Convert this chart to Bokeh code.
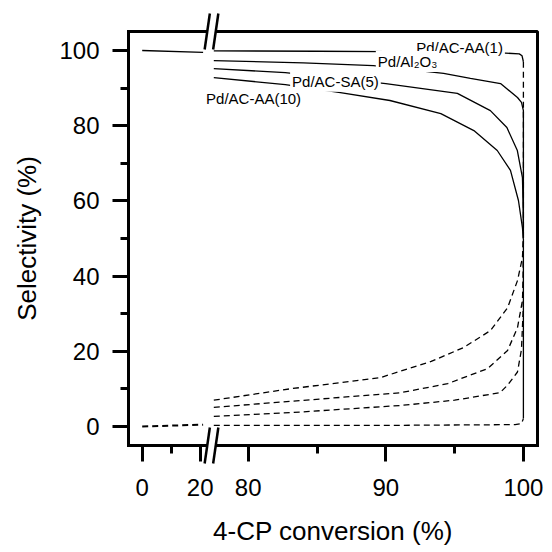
from bokeh.plotting import figure
from bokeh.models import Range1d, FixedTicker, Label
from bokeh.embed import file_html
from bokeh.resources import INLINE

# ---------------- data (4-CP conversion %, selectivity %) ----------------
# low-conversion segment (left of the axis break)
low_x = [0.0, 21.0]
low_main_y = [100.0, 99.5]
low_by_y = [0.0, 0.5]

# high-conversion segment: main product (solid) and by-product (dashed)
aa1_main_x = [77.5, 85.0, 90.0, 95.0, 98.7, 99.7, 99.9, 100.0]
aa1_main_y = [99.9, 99.8, 99.7, 99.5, 99.3, 99.1, 98.6, 97.0]
aa1_drop_x = [100.0, 100.0]
aa1_drop_y = [97.0, 50.0]
aa1_rise_x = [100.0, 100.0]
aa1_rise_y = [50.0, 2.1]
aa1_by_x = [77.5, 90.0, 99.4, 99.86, 100.0]
aa1_by_y = [0.3, 0.3, 0.5, 0.8, 2.1]

al2o3_main_x = [77.5, 84.0, 89.1, 94.2, 96.15, 98.34, 99.57, 99.86, 100.0, 100.0]
al2o3_main_y = [97.3, 96.7, 96.0, 93.9, 92.6, 91.2, 87.5, 86.2, 84.0, 50.0]
al2o3_by_x = [77.5, 84.0, 91.1, 95.0, 98.3, 98.85, 99.57, 99.86, 99.99, 100.0]
al2o3_by_y = [2.7, 3.9, 5.6, 7.0, 9.0, 11.0, 14.5, 20.5, 31.6, 50.0]

sa5_main_x = [77.5, 82.7, 90.0, 95.2, 97.6, 98.8, 99.56, 99.93, 99.99, 100.0]
sa5_main_y = [95.2, 94.1, 91.2, 88.6, 84.0, 79.5, 73.4, 66.2, 57.4, 50.0]
sa5_by_x = [77.5, 83.8, 91.1, 94.5, 97.4, 98.85, 99.57, 99.93, 99.99, 100.0]
sa5_by_y = [5.1, 6.9, 9.0, 11.4, 15.4, 20.2, 26.3, 33.5, 40.7, 50.0]

aa10_main_x = [77.5, 82.7, 86.7, 90.3, 94.0, 96.4, 98.1, 99.06, 99.64, 99.93, 100.0]
aa10_main_y = [92.8, 90.9, 88.8, 86.7, 83.2, 78.7, 73.4, 68.1, 60.1, 52.9, 50.0]
aa10_by_x = [77.5, 83.0, 89.6, 93.3, 95.65, 97.6, 98.85, 99.57, 99.93, 100.0]
aa10_by_y = [7.0, 10.0, 13.0, 17.3, 21.0, 25.5, 31.6, 38.8, 44.9, 50.0]

labels = ["Pd/AC-AA(1)", "Pd/Al\u2082O\u2083", "Pd/AC-SA(5)", "Pd/AC-AA(10)"]
label_x = [95.36, 91.58, 86.34, 80.39]
label_y = [100.8, 97.1, 91.8, 87.2]

x_major = [0, 20, 80, 90, 100]
x_minor = [10, 85, 95]
y_major = [0, 20, 40, 60, 80, 100]
y_minor = [10, 30, 50, 70, 90]

# ---------------- broken x axis mapping ----------------
HIGH_START = 80.0
HIGH_OFFSET = 106.0
HIGH_SCALE = 13.76
BREAK_U = 69.3


def to_u(x):
    if x < 50:
        return x * 29 / 10
    return HIGH_OFFSET + (x - HIGH_START) * HIGH_SCALE


def us(xs):
    return [to_u(v) for v in xs]


FONT = "Liberation Sans"
Y0, Y1 = -5.05, 105.05

p = figure(width=550, height=550, output_backend="svg", toolbar_location=None,
           x_range=Range1d(-13.7, 395.3), y_range=Range1d(Y0, Y1),
           min_border_left=128, min_border_right=13, min_border_top=31,
           min_border_bottom=105)
p.xgrid.visible = False
p.ygrid.visible = False
p.outline_line_color = "black"
p.outline_line_width = 3
p.background_fill_color = "white"
p.border_fill_color = "white"

xmaj_u = us(x_major)
xa = p.xaxis[0]
xa.ticker = FixedTicker(ticks=xmaj_u, minor_ticks=us(x_minor))
xa.major_label_overrides = {u: str(v) for u, v in zip(xmaj_u, x_major)}
ya = p.yaxis[0]
ya.ticker = FixedTicker(ticks=y_major, minor_ticks=y_minor)

for ax in (xa, ya):
    ax.axis_line_width = 3
    ax.axis_line_cap = "square"
    ax.major_tick_line_width = 3
    ax.minor_tick_line_width = 3
    ax.major_tick_in = 0
    ax.minor_tick_in = 0
    ax.major_tick_out = 16
    ax.minor_tick_out = 8
    ax.major_label_text_font = FONT
    ax.major_label_text_font_size = "24px"
    ax.major_label_text_color = "black"
    ax.axis_label_text_font = FONT
    ax.axis_label_text_font_size = "26px"
    ax.axis_label_text_font_style = "normal"
    ax.axis_label_text_color = "black"

xa.axis_label = "4-CP conversion (%)"
xa.major_label_standoff = 17
xa.axis_label_standoff = 17
ya.axis_label = "Selectivity (%)"
ya.major_label_standoff = 13
ya.axis_label_standoff = 14

LW = 1.3
DASH = "6 4"
# left segment
p.line(us(low_x), low_main_y, line_color="black", line_width=LW)
p.line(us(low_x), low_by_y, line_color="black", line_width=2, line_dash=DASH)

for mx, my, bx, by in [
    (aa1_main_x, aa1_main_y, aa1_by_x, aa1_by_y),
    (al2o3_main_x, al2o3_main_y, al2o3_by_x, al2o3_by_y),
    (sa5_main_x, sa5_main_y, sa5_by_x, sa5_by_y),
    (aa10_main_x, aa10_main_y, aa10_by_x, aa10_by_y),
]:
    p.line(us(mx), my, line_color="black", line_width=LW)
    p.line(us(bx), by, line_color="black", line_width=LW, line_dash=DASH)

p.line(us(aa1_drop_x), aa1_drop_y, line_color="black", line_width=LW, line_dash=DASH)
p.line(us(aa1_rise_x), aa1_rise_y, line_color="black", line_width=LW)

for t, lx, ly in zip(labels, label_x, label_y):
    p.add_layout(Label(x=to_u(lx), y=ly, text=t, text_font=FONT,
                       text_font_size="15px", text_align="center",
                       text_baseline="middle", text_color="black",
                       background_fill_color="white", padding=2))

# axis-break marks (white gap in the frame, then two slanted strokes)
DX, DY, H = 2.6, 4.8, 0.7
K = DX * H / DY
c1, c2 = BREAK_U - 4.25, BREAK_U + 4.25
gap_xs, gap_ys = [], []
for ye in (Y0, Y1):
    gap_xs.append([c1 - K, c1 + K, c2 + K, c2 - K])
    gap_ys.append([ye - H, ye + H, ye + H, ye - H])
p.patches(gap_xs, gap_ys, fill_color="white", line_color=None, level="overlay")
for ye in (Y0, Y1):
    p.segment(x0=[c1 - DX, c2 - DX], y0=[ye - DY] * 2,
              x1=[c1 + DX, c2 + DX], y1=[ye + DY] * 2,
              line_color="black", line_width=2.5, level="overlay")

open("out.html", "w").write(file_html(p, INLINE))
